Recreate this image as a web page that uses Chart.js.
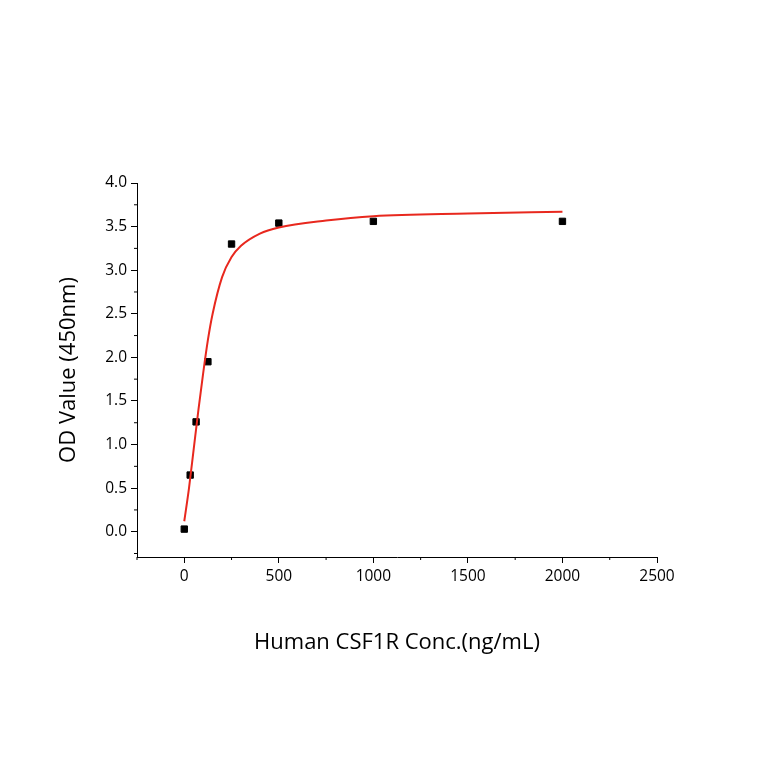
<!DOCTYPE html>
<html>
<head>
<meta charset="utf-8">
<script src="https://cdn.jsdelivr.net/npm/chart.js@4"></script>
<style>
  body { margin: 0; background: #fff; }
  #wrap { width: 764px; height: 764px; }
</style>
</head>
<body>
<div id="wrap"><canvas id="c" width="764" height="764"></canvas></div>
<script>
// measured points (ng/mL, OD450)
const concentrations = [0, 31.25, 62.5, 125, 250, 500, 1000, 2000];
const odValues = [0.03, 0.65, 1.26, 1.95, 3.30, 3.54, 3.56, 3.56];

// fitted curve
const fitX = [0, 25, 50, 75, 100, 125, 150, 200, 250, 300, 400, 500, 750, 1000, 1500, 2000];
const fitY = [0.12, 0.5, 0.95, 1.4, 1.82, 2.2, 2.5, 2.92, 3.15, 3.28, 3.42, 3.49, 3.57, 3.62, 3.65, 3.67];

const xTicks = [0, 500, 1000, 1500, 2000, 2500];
const yTicks = [0, 0.5, 1.0, 1.5, 2.0, 2.5, 3.0, 3.5, 4.0];

const tickFont = { family: 'Open Sans', size: 15.5 };
const titleFont = { family: 'Open Sans', size: 22 };

// minor ticks halfway between the major ones
const minorTicks = {
    id: 'minorTicks',
    afterDraw(chart) {
        const ctx = chart.ctx;
        const x = chart.scales.x, y = chart.scales.y;
        ctx.save();
        ctx.strokeStyle = '#000';
        ctx.lineWidth = 1;
        ctx.beginPath();
        for (let v = -250; v <= 2500; v += 500) {
            const px = x.getPixelForValue(v);
            ctx.moveTo(px, y.bottom);
            ctx.lineTo(px, y.bottom + 3);
        }
        for (let v = -0.25; v <= 4; v += 0.5) {
            const py = y.getPixelForValue(v);
            ctx.moveTo(x.left, py);
            ctx.lineTo(x.left - 3, py);
        }
        ctx.stroke();
        ctx.restore();
    }
};

new Chart(document.getElementById('c'), {
    type: 'scatter',
    data: {
        datasets: [
            {
                type: 'line',
                data: fitX.map((v, i) => ({ x: v, y: fitY[i] })),
                borderColor: '#e8281e',
                borderWidth: 2,
                pointRadius: 0,
                cubicInterpolationMode: 'monotone',
                fill: false
            },
            {
                data: concentrations.map((v, i) => ({ x: v, y: odValues[i] })),
                backgroundColor: '#000',
                borderColor: '#000',
                pointStyle: 'rect',
                pointRadius: 4.5
            }
        ]
    },
    options: {
        responsive: false,
        animation: false,
        layout: { padding: { left: 52, top: 183, right: 107, bottom: 104 } },
        plugins: { legend: { display: false }, tooltip: { enabled: false } },
        scales: {
            x: {
                type: 'linear',
                min: -250,
                max: 2500,
                afterBuildTicks: s => { s.ticks = xTicks.map(v => ({ value: v })); },
                afterFit: s => { s.height = 103; },
                ticks: { font: tickFont, color: '#000', padding: 4, callback: v => String(v) },
                grid: { drawOnChartArea: false, tickLength: 6, color: '#000' },
                border: { color: '#000', width: 1 },
                title: { display: true, text: 'Human CSF1R Conc.(ng/mL)', font: titleFont, color: '#000', padding: { top: 6 } }
            },
            y: {
                type: 'linear',
                min: -0.29,
                max: 4.0,
                afterBuildTicks: s => { s.ticks = yTicks.map(v => ({ value: v })); },
                afterFit: s => { s.width = 85; },
                ticks: { font: tickFont, color: '#000', padding: 4, callback: v => v.toFixed(1) },
                grid: { drawOnChartArea: false, tickLength: 6, color: '#000' },
                border: { color: '#000', width: 1 },
                title: { display: true, text: 'OD Value (450nm)', font: titleFont, color: '#000', padding: { bottom: 4 } }
            }
        }
    },
    plugins: [minorTicks]
});
</script>
</body>
</html>
